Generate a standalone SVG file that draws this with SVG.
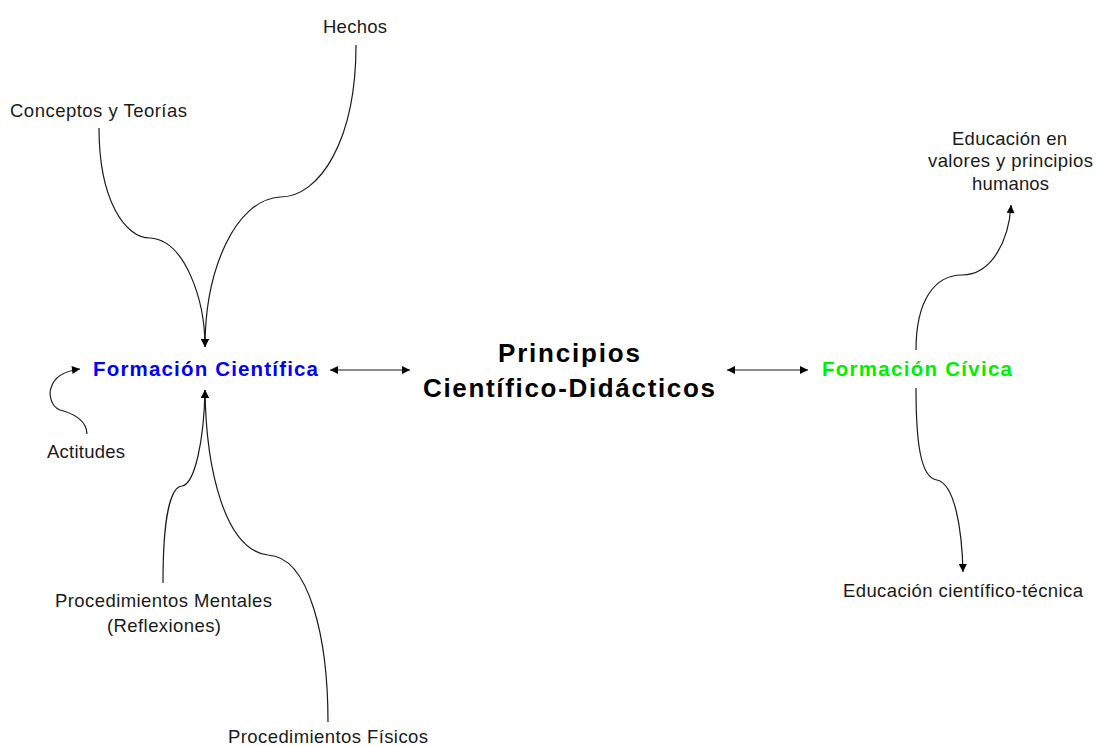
<svg xmlns="http://www.w3.org/2000/svg" width="1097" height="746" viewBox="0 0 1097 746">
<defs>
<marker id="ah" viewBox="0 0 10 10" refX="10" refY="5" markerWidth="9" markerHeight="8" markerUnits="userSpaceOnUse" orient="auto-start-reverse">
<path d="M0,0 L10,5 L0,10 Z" fill="#000"/>
</marker>
<style>
.lbl{font-family:"Liberation Sans",Arial,sans-serif;font-size:18.5px;fill:#1a1a1a}
.bold{font-family:"Liberation Sans",Arial,sans-serif;font-weight:bold}
.c{fill:none;stroke:#1a1a1a;stroke-width:1.2}
</style>
</defs>
<rect width="1097" height="746" fill="#fff"/>
<g id="connectors">
<path class="c" d="M99 128 C99 200,125 238,150 238 C185 240,205 300,205 347" marker-end="url(#ah)"/>
<path class="c" d="M356 45 C356 140,320 197,280 197 C235 200,205 270,205 347" marker-end="url(#ah)"/>
<path class="c" d="M87 434 C87 420,72 413,60 410 C50 406,49 393,51 388 C54 377,64 371,80 369" marker-end="url(#ah)"/>
<path class="c" d="M163 583 C163 520,170 487,182 486 C195 484,204 440,205 390" marker-end="url(#ah)"/>
<path class="c" d="M328 722 C328 640,310 557,268 555 C225 550,206 470,205 390" marker-end="url(#ah)"/>
<path class="c" d="M330 370 L410 370" marker-start="url(#ah)" marker-end="url(#ah)"/>
<path class="c" d="M727 370 L808 370" marker-start="url(#ah)" marker-end="url(#ah)"/>
<path class="c" d="M916 350 C916 300,935 275,962 275 C992 275,1009 240,1011 205" marker-end="url(#ah)"/>
<path class="c" d="M916 388 C916 440,920 478,937 480 C955 484,962 530,963 572" marker-end="url(#ah)"/>
</g>
<g id="hechos"><text class="lbl" x="323" y="33" textLength="64" lengthAdjust="spacing">Hechos</text></g>
<g id="conceptos"><text class="lbl" x="10" y="117" textLength="177" lengthAdjust="spacing">Conceptos y Teorías</text></g>
<g id="formacion-cientifica"><text class="bold" x="93" y="376" font-size="20.5" fill="#0000ff" textLength="225" lengthAdjust="spacing">Formación Científica</text></g>
<g id="principios">
<text class="bold" x="498" y="362" font-size="26" fill="#000" textLength="142" lengthAdjust="spacing">Principios</text>
<text class="bold" x="423" y="397" font-size="26" fill="#000" textLength="292" lengthAdjust="spacing">Científico-Didácticos</text>
</g>
<g id="formacion-civica"><text class="bold" x="822" y="376" font-size="20.5" fill="#00ee00" textLength="190" lengthAdjust="spacing">Formación Cívica</text></g>
<g id="actitudes"><text class="lbl" x="47" y="458" textLength="78" lengthAdjust="spacing">Actitudes</text></g>
<g id="proc-mentales">
<text class="lbl" x="55" y="607" textLength="217" lengthAdjust="spacing">Procedimientos Mentales</text>
<text class="lbl" x="107" y="632" textLength="114" lengthAdjust="spacing">(Reflexiones)</text>
</g>
<g id="proc-fisicos"><text class="lbl" x="228" y="743" textLength="200" lengthAdjust="spacing">Procedimientos Físicos</text></g>
<g id="educ-valores">
<text class="lbl" x="952" y="145" textLength="115" lengthAdjust="spacing">Educación en</text>
<text class="lbl" x="928" y="167" textLength="165" lengthAdjust="spacing">valores y principios</text>
<text class="lbl" x="972" y="190" textLength="77" lengthAdjust="spacing">humanos</text>
</g>
<g id="educ-tecnica"><text class="lbl" x="843" y="597" textLength="240" lengthAdjust="spacing">Educación científico-técnica</text></g>
</svg>
